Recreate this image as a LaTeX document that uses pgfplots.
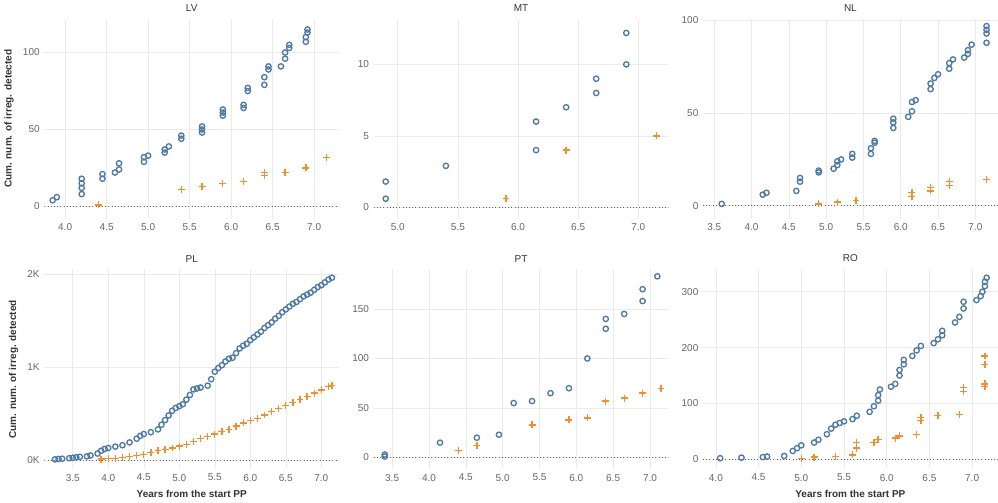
\documentclass[border=0pt]{standalone}
\usepackage{pgfplots}
\pgfplotsset{compat=1.18}
\usepgfplotslibrary{groupplots}
\usepackage{fontspec}
\setmainfont{Liberation Sans}
\definecolor{tb}{HTML}{4E79A7}
\definecolor{to}{HTML}{F28E2B}
\definecolor{gr}{HTML}{666666}
\begin{document}
\begin{tikzpicture}
\begin{groupplot}[group style={group size=3 by 2, horizontal sep=26pt, vertical sep=38pt},
 scale only axis, width=221pt, height=150pt,
 axis line style={draw=none}, tick style={draw=none},
 grid=major, grid style={draw=black!8},
 tick label style={font=\fontsize{7.5}{9}\selectfont, text=gr},
 /pgf/number format/assume math mode=true,
 title style={yshift=-4pt,text=black!80,font=\fontsize{7.5}{9}\selectfont},
 label style={font=\fontsize{7.5}{9}\selectfont\bfseries, text=black!80},
 xticklabel style={/pgf/number format/fixed,/pgf/number format/fixed zerofill,/pgf/number format/precision=1},
 bser/.style={only marks, mark=o, mark size=2pt, draw=tb, line width=1pt},
 oser/.style={only marks, mark=+, mark size=2.6pt, draw=to, line width=1pt},
 zl/.style={dotted, gr, thin}]
\nextgroupplot[title=LV, xmin=3.75, xmax=7.3, xtick={4,4.5,...,7}, ymin=-8, ymax=122, ytick={0,50,100}, ylabel={Cum. num. of irreg. detected}]
\addplot[zl] coordinates {(3.75,0)(7.3,0)};
\addplot[bser] coordinates {(3.85,4)(3.9,6)(4.2,8)(4.2,12)(4.2,15)(4.2,18)(4.45,18)(4.45,21)(4.6,22)(4.65,24)(4.65,28)(4.95,29)(4.95,32)(5.0,33)(5.2,35)(5.2,37)(5.25,39)(5.4,44)(5.4,46)(5.65,48)(5.65,50)(5.65,52)(5.9,59)(5.9,61)(5.9,63)(6.15,64)(6.15,66)(6.2,75)(6.2,77)(6.4,79)(6.4,84)(6.45,89)(6.45,91)(6.6,91)(6.65,96)(6.65,100)(6.7,103)(6.7,105)(6.9,107)(6.9,110)(6.92,113)(6.92,115)};
\addplot[oser] coordinates {(4.4,1)(5.4,11)(5.65,13)(5.9,15)(6.15,16)(6.4,20)(6.4,22)(6.65,22)(6.9,25)(7.15,32)};
\nextgroupplot[title=MT, xmin=4.8, xmax=7.25, xtick={5,5.5,...,7}, ymin=-0.8, ymax=13.2, ytick={0,5,10}]
\addplot[zl] coordinates {(4.8,0)(7.25,0)};
\addplot[bser] coordinates {(4.9,1.8)(4.9,0.6)(5.4,2.9)(6.15,4)(6.15,6)(6.4,7)(6.65,8)(6.65,9)(6.9,10)(6.9,12.2)};
\addplot[oser] coordinates {(5.9,0.6)(6.4,4)(7.15,5)};
\nextgroupplot[title=NL, xmin=3.35, xmax=7.3, xtick={3.5,4,...,7}, ymin=-7, ymax=101, ytick={0,50,100}]
\addplot[zl] coordinates {(3.35,0)(7.3,0)};
\addplot[bser] coordinates {(3.6,1)(4.15,6)(4.2,7)(4.6,8)(4.65,13)(4.65,15)(4.9,18)(4.9,19)(5.1,20)(5.15,22)(5.15,24)(5.2,25)(5.35,26)(5.35,28)(5.6,28)(5.6,31)(5.65,34)(5.65,35)(5.9,42)(5.9,45)(5.9,47)(6.1,48)(6.15,51)(6.15,56)(6.2,57)(6.4,63)(6.4,66)(6.45,69)(6.5,71)(6.65,74)(6.65,77)(6.7,79)(6.85,80)(6.9,82)(6.9,84)(6.95,87)(7.15,88)(7.15,93)(7.15,95)(7.15,97)};
\addplot[oser] coordinates {(4.9,1)(5.15,2)(5.4,3)(6.15,5)(6.15,7)(6.4,8)(6.4,10)(6.65,11)(6.65,13)(7.15,14)};
\nextgroupplot[title=PL, xmin=3.1, xmax=7.25, xtick={3.5,4,...,7}, ymin=-100, ymax=2050, ytick={0,1000,2000}, yticklabels={0K,1K,2K}, ylabel={Cum. num. of irreg. detected}, xlabel={Years from the start PP}]
\addplot[zl] coordinates {(3.1,0)(7.25,0)};
\addplot[bser] coordinates {(3.25,8)(3.3,12)(3.35,15)(3.45,20)(3.5,25)(3.55,30)(3.6,35)(3.7,40)(3.75,50)(3.85,70)(3.9,100)(3.95,120)(4.0,130)(4.1,145)(4.2,160)(4.3,190)(4.4,230)(4.45,260)(4.5,280)(4.6,300)(4.7,330)(4.75,380)(4.8,430)(4.85,480)(4.9,530)(4.95,560)(5.0,580)(5.05,600)(5.1,650)(5.15,700)(5.2,760)(5.25,770)(5.3,780)(5.4,800)(5.45,870)(5.5,950)(5.55,990)(5.6,1020)(5.65,1060)(5.7,1090)(5.75,1100)(5.8,1150)(5.85,1200)(5.9,1230)(5.95,1250)(6.0,1290)(6.05,1320)(6.1,1350)(6.15,1380)(6.2,1420)(6.25,1450)(6.3,1480)(6.35,1520)(6.4,1550)(6.45,1590)(6.5,1620)(6.55,1650)(6.6,1680)(6.65,1700)(6.7,1730)(6.75,1760)(6.8,1780)(6.85,1800)(6.9,1830)(6.95,1860)(7.0,1880)(7.05,1910)(7.1,1940)(7.15,1960)};
\addplot[oser] coordinates {(3.9,10)(4.0,15)(4.1,20)(4.2,30)(4.3,40)(4.4,50)(4.5,60)(4.6,80)(4.7,100)(4.8,115)(4.9,130)(5.0,150)(5.1,170)(5.2,200)(5.3,230)(5.4,255)(5.5,280)(5.6,305)(5.7,330)(5.8,365)(5.9,400)(6.0,425)(6.1,450)(6.2,485)(6.3,520)(6.4,555)(6.5,590)(6.6,620)(6.7,650)(6.8,685)(6.9,720)(7.0,755)(7.1,790)(7.15,800)};
\nextgroupplot[title=PT, xmin=3.25, xmax=7.25, xtick={3.5,4,...,7}, ymin=-12, ymax=190, ytick={0,50,100,150}]
\addplot[zl] coordinates {(3.25,0)(7.25,0)};
\addplot[bser] coordinates {(3.4,1)(3.4,3)(4.15,15)(4.65,20)(4.95,23)(5.15,55)(5.4,57)(5.65,65)(5.9,70)(6.15,100)(6.4,130)(6.4,140)(6.65,145)(6.9,158)(6.9,170)(7.1,183)};
\addplot[oser] coordinates {(4.4,7)(4.65,12)(5.4,33)(5.9,38)(6.15,40)(6.4,57)(6.65,60)(6.9,65)(7.15,70)};
\nextgroupplot[title=RO, xmin=3.85, xmax=7.3, xtick={4,4.5,...,7}, ymin=-18, ymax=340, ytick={0,100,200,300}, xlabel={Years from the start PP}]
\addplot[zl] coordinates {(3.85,0)(7.3,0)};
\addplot[bser] coordinates {(4.05,2)(4.3,3)(4.55,4)(4.6,5)(4.8,6)(4.9,15)(4.95,20)(5.0,25)(5.15,30)(5.2,35)(5.3,45)(5.35,55)(5.4,62)(5.45,65)(5.5,68)(5.6,72)(5.65,78)(5.8,85)(5.85,95)(5.9,105)(5.9,115)(5.92,125)(6.05,130)(6.1,135)(6.15,150)(6.15,160)(6.2,170)(6.2,178)(6.3,185)(6.35,195)(6.4,203)(6.55,208)(6.6,215)(6.65,222)(6.65,230)(6.8,245)(6.85,255)(6.9,270)(6.9,282)(7.05,285)(7.1,292)(7.12,300)(7.15,310)(7.15,318)(7.17,325)};
\addplot[oser] coordinates {(5.0,2)(5.15,4)(5.4,5)(5.6,8)(5.65,20)(5.65,30)(5.85,30)(5.9,35)(6.1,38)(6.15,42)(6.35,45)(6.4,70)(6.4,75)(6.6,78)(6.85,80)(6.9,122)(6.9,128)(7.15,130)(7.15,135)(7.15,170)(7.15,185)};
\end{groupplot}
\end{tikzpicture}
\end{document}
